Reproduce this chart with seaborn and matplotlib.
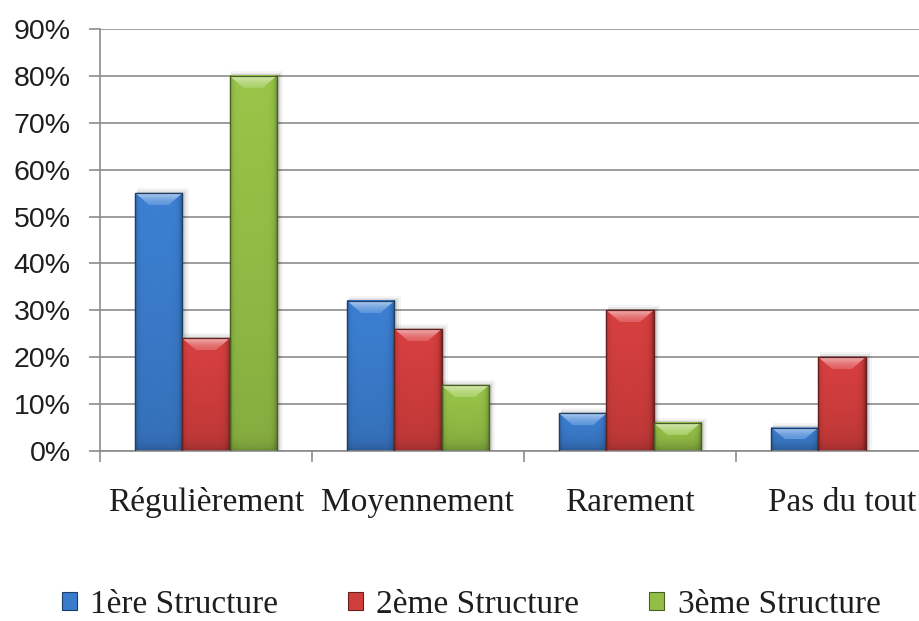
import numpy as np
import pandas as pd
import matplotlib
matplotlib.use("Agg")
import matplotlib.pyplot as plt
import matplotlib.colors as mcolors
from matplotlib.patches import Polygon, Rectangle, Patch
from matplotlib.ticker import PercentFormatter, FixedLocator
import seaborn as sns

# ---- data -------------------------------------------------------------
categories = ["Régulièrement", "Moyennement", "Rarement", "Pas du tout"]
structures = ["1ère Structure", "2ème Structure", "3ème Structure"]
structure_1 = [55, 32, 8, 5]
structure_2 = [24, 26, 30, 20]
structure_3 = [80, 14, 6, 0]
y_ticks = [0, 10, 20, 30, 40, 50, 60, 70, 80, 90]

colors = ["#3A7BCB", "#D03D3D", "#93BE46"]
grid_color = "#8C8C8C"
text_color = "#1E1E1E"

df = pd.DataFrame({
    "Fréquence": categories * 3,
    "Structure": np.repeat(structures, len(categories)),
    "Pourcentage": structure_1 + structure_2 + structure_3,
})

sns.set_theme(style="white")
serif = "Liberation Serif"
sans = "Liberation Sans"

fig = plt.figure(figsize=(9.2, 6.21), dpi=100)
W, H = 920, 621
ax = fig.add_axes([100 / W, 170 / H, 848 / W, 422 / H])

sns.barplot(data=df, x="Fréquence", y="Pourcentage", hue="Structure",
            palette=colors, width=2 / 3, saturation=1, legend=False,
            errorbar=None, ax=ax, zorder=2)

ax.set_xlim(-0.5, len(categories) - 0.5)
ax.set_ylim(0, 90)

# ---- axes styling -------------------------------------------------------
ax.set_axisbelow(True)
ax.yaxis.set_major_locator(FixedLocator(y_ticks))
ax.yaxis.set_major_formatter(PercentFormatter(xmax=100, decimals=0))
ax.yaxis.grid(True, color=grid_color, lw=1.2)
ax.xaxis.grid(False)
for side in ("top", "right"):
    ax.spines[side].set_visible(False)
for side in ("left", "bottom"):
    ax.spines[side].set_color(grid_color)
    ax.spines[side].set_linewidth(1.2)

ax.set_xlabel("")
ax.set_ylabel("")
ax.tick_params(axis="y", length=8, width=1.2, color=grid_color, pad=13,
               labelsize=20.5, labelcolor=text_color, left=True)
for lab in ax.get_yticklabels():
    lab.set_fontfamily(sans)

ax.set_xticks(range(len(categories)))
ax.set_xticklabels(categories)
ax.set_xticks(np.arange(-0.5, len(categories)), minor=True)
ax.tick_params(axis="x", which="major", length=0, pad=26,
               labelsize=24, labelcolor=text_color)
ax.tick_params(axis="x", which="minor", length=8, width=1.2,
               color=grid_color, bottom=True)
for lab in ax.get_xticklabels():
    lab.set_fontfamily(serif)

# ---- bevelled bar rendering --------------------------------------------
sx = ax.transData.transform((1, 0))[0] - ax.transData.transform((0, 0))[0]
sy = ax.transData.transform((0, 1))[1] - ax.transData.transform((0, 0))[1]
bevel_w = 14 / sx
bevel_h = 12 / sy


def mix(c, target, t):
    return np.clip(c + (np.array(target) - c) * t, 0, 1)


for container, color in zip(ax.containers, colors):
    base = np.array(mcolors.to_rgb(color))
    dark = base * 0.5
    for bar in container:
        x0, w, h = bar.get_x(), bar.get_width(), bar.get_height()
        if h <= 0:
            bar.set_visible(False)
            continue
        bar.set_edgecolor(dark)
        bar.set_linewidth(0.9)

        # soft shadow around the bar
        for k, a in ((5, 0.04), (3, 0.06), (1.5, 0.08)):
            ax.add_patch(Rectangle((x0 + 1.5 / sx, 0), w + k / sx, h + k / sy,
                                   facecolor="black", edgecolor="none",
                                   alpha=a, zorder=1.8))

        # body: darker sides, lighter top, darker foot
        t = np.linspace(0, 1, 80)
        horiz = 1.0 - 0.25 * np.exp(-t / 0.04) - 0.40 * np.exp(-(1 - t) / 0.05)
        rows = max(int(h * sy), 2)
        s = np.linspace(0, h * sy, rows)
        vert = (0.90 + 0.14 * (s / max(h * sy, 1)) ** 0.8) * (1 - 0.18 * np.exp(-s / 6))
        img = np.clip(base[None, None, :] * horiz[None, :, None]
                      * vert[:, None, None], 0, 1)
        ax.imshow(img, extent=(x0, x0 + w, 0, h), origin="lower",
                  aspect="auto", interpolation="bilinear", zorder=2.2)

        # top bevel: bright rim fading into the body colour
        bh = min(bevel_h, h * 0.5)
        bw = min(bevel_w, w * 0.3)
        top = Polygon([(x0, h), (x0 + w, h), (x0 + w - bw, h - bh),
                       (x0 + bw, h - bh)], closed=True, facecolor="none",
                      edgecolor="none", zorder=2.4)
        ax.add_patch(top)
        tv = np.linspace(0, 1, 30)
        bev = np.array([mix(base * 1.05, (1, 1, 1), 0.18 + 0.42 * v ** 1.6) for v in tv])
        bev_img = np.repeat(bev[:, None, :], 4, axis=1)
        im = ax.imshow(bev_img, extent=(x0, x0 + w, h - bh, h), origin="lower",
                       aspect="auto", interpolation="bilinear", zorder=2.4)
        im.set_clip_path(top)

        # outline on top
        ax.add_patch(Rectangle((x0, 0), w, h, facecolor="none",
                               edgecolor=dark, lw=0.9, zorder=2.6))

ax.set_xlim(-0.5, len(categories) - 0.5)
ax.set_ylim(0, 90)

# ---- legend -------------------------------------------------------------
handles = [Patch(facecolor=c, edgecolor=np.array(mcolors.to_rgb(c)) * 0.5,
                 lw=0.8) for c in colors]
fig.legend(handles, structures, loc="center", bbox_to_anchor=(471 / W, 1 - 605 / H),
           ncol=3, frameon=False, prop={"family": serif, "size": 24},
           handlelength=0.45, handleheight=0.45, handletextpad=0.4,
           columnspacing=2.1, labelcolor=text_color)

fig.savefig("out.png", dpi=100, facecolor="white")
